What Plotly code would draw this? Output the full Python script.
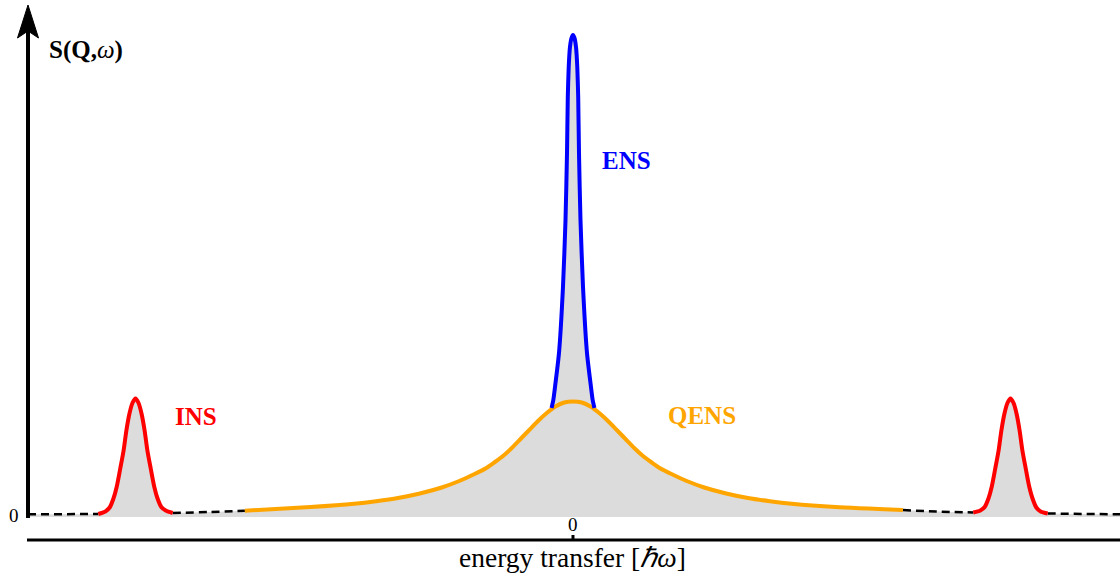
import plotly.graph_objects as go

# energy transfer in units of the inelastic peak position, intensity in arbitrary units
qens_x = [-0.75, -0.60, -0.50, -0.45, -0.40, -0.35, -0.30, -0.26, -0.225, -0.20, -0.18, -0.16, -0.14,
          -0.12, -0.10, -0.08, -0.06, -0.04, -0.02, 0.0,
          0.02, 0.04, 0.06, 0.08, 0.10, 0.12, 0.14, 0.16, 0.18, 0.20, 0.225, 0.26, 0.30,
          0.35, 0.40, 0.45, 0.50, 0.60, 0.754]
qens_y = [0.063, 0.10, 0.133, 0.158, 0.19, 0.235, 0.295, 0.36, 0.43, 0.485, 0.545, 0.61, 0.69,
          0.78, 0.87, 0.96, 1.04, 1.105, 1.145, 1.155,
          1.145, 1.105, 1.04, 0.96, 0.87, 0.78, 0.69, 0.61, 0.545, 0.485, 0.43, 0.36, 0.295,
          0.235, 0.19, 0.158, 0.133, 0.10, 0.07]

ens_x = [-0.049, -0.045, -0.0411, -0.032, -0.0229, -0.0171, -0.0137, -0.0119, -0.0098, -0.0069, -0.0034, 0.0,
         0.0034, 0.0069, 0.0098, 0.0119, 0.0137, 0.0171, 0.0229, 0.032, 0.0411, 0.045, 0.049]
ens_y = [1.09, 1.17, 1.30, 1.64, 2.30, 2.97, 3.64, 4.20, 4.50, 4.70, 4.79, 4.82,
         4.79, 4.70, 4.50, 4.20, 3.64, 2.97, 2.30, 1.64, 1.30, 1.17, 1.09]

ins_left_x = [-1.085, -1.069, -1.059, -1.050, -1.043, -1.035, -1.027, -1.021, -1.014, -1.007, -1.0,
              -0.993, -0.986, -0.979, -0.973, -0.965, -0.957, -0.950, -0.941, -0.931, -0.915]
ins_left_y = [0.03, 0.055, 0.095, 0.19, 0.30, 0.48, 0.67, 0.86, 1.03, 1.14, 1.185,
              1.14, 1.03, 0.86, 0.67, 0.48, 0.30, 0.19, 0.10, 0.065, 0.04]

ins_right_x = [0.915, 0.931, 0.941, 0.950, 0.957, 0.965, 0.973, 0.979, 0.986, 0.993, 1.0,
               1.007, 1.014, 1.021, 1.027, 1.035, 1.043, 1.050, 1.059, 1.069, 1.085]
ins_right_y = [0.045, 0.065, 0.10, 0.19, 0.30, 0.48, 0.67, 0.86, 1.03, 1.14, 1.185,
               1.14, 1.03, 0.86, 0.67, 0.48, 0.30, 0.19, 0.095, 0.055, 0.035]

# dashed background between the peaks
tail_x = [[-1.2457, -1.085], [-0.915, -0.83, -0.75], [0.754, 0.83, 0.915], [1.085, 1.2503]]
tail_y = [[0.027, 0.03], [0.04, 0.05, 0.063], [0.07, 0.055, 0.045], [0.035, 0.027]]

FONT = "Liberation Serif"

# envelope for the grey area
env_x, env_y = [], []
env_x += tail_x[0]; env_y += tail_y[0]
env_x += ins_left_x; env_y += ins_left_y
env_x += tail_x[1]; env_y += tail_y[1]
for x, y in zip(qens_x, qens_y):
    if x < ens_x[0]:
        env_x.append(x); env_y.append(y)
env_x += ens_x; env_y += ens_y
for x, y in zip(qens_x, qens_y):
    if x > ens_x[-1]:
        env_x.append(x); env_y.append(y)
env_x += tail_x[2]; env_y += tail_y[2]
env_x += ins_right_x; env_y += ins_right_y
env_x += tail_x[3]; env_y += tail_y[3]

fig = go.Figure()
fig.add_trace(go.Scatter(x=env_x, y=env_y, mode="lines", line=dict(width=0, shape="spline", smoothing=0.6),
                         fill="tozeroy", fillcolor="#dcdcdc", hoverinfo="skip"))
for tx, ty in zip(tail_x, tail_y):
    fig.add_trace(go.Scatter(x=tx, y=ty, mode="lines",
                             line=dict(color="black", width=2.5, dash="8px,5px", shape="spline")))
fig.add_trace(go.Scatter(x=qens_x, y=qens_y, mode="lines",
                         line=dict(color="#ffa500", width=4, shape="spline", smoothing=0.7)))
fig.add_trace(go.Scatter(x=ens_x, y=ens_y, mode="lines",
                         line=dict(color="#0000ff", width=4, shape="spline", smoothing=0.6)))
for xs, ys in [(ins_left_x, ins_left_y), (ins_right_x, ins_right_y)]:
    fig.add_trace(go.Scatter(x=xs, y=ys, mode="lines",
                             line=dict(color="#ff0000", width=4, shape="spline", smoothing=0.8)))

y_axis_x = -1.2457
shapes = [
    dict(type="line", x0=y_axis_x, x1=y_axis_x, y0=-0.01, y1=4.86, line=dict(color="black", width=4)),
    dict(type="path", xsizemode="pixel", ysizemode="pixel", xanchor=y_axis_x, yanchor=5.12,
         path="M0,0 L-10.5,-33 L0,-26 L10.5,-33 Z", fillcolor="black", line=dict(color="black", width=1)),
    dict(type="line", x0=-1.248, x1=1.2503, y0=-0.23, y1=-0.23, line=dict(color="black", width=3)),
    dict(type="line", x0=0, x1=0, y0=-0.18, y1=-0.23, line=dict(color="black", width=3)),
]

annotations = [
    dict(x=-1.2023, y=4.67, text="<b>S(Q,</b><i>ω</i><b>)</b>", xanchor="left", yanchor="middle",
         font=dict(family=FONT, size=25, color="black")),
    dict(x=0.0617, y=3.57, text="<b>ENS</b>", xanchor="left", yanchor="middle",
         font=dict(family=FONT, size=25, color="#0000ff")),
    dict(x=-0.914, y=1.01, text="<b>INS</b>", xanchor="left", yanchor="middle",
         font=dict(family=FONT, size=25, color="#ff0000")),
    dict(x=0.2126, y=1.02, text="<b>QENS</b>", xanchor="left", yanchor="middle",
         font=dict(family=FONT, size=25, color="#ffa500")),
    dict(x=-1.2777, y=0.015, text="0", xanchor="center", yanchor="middle",
         font=dict(family=FONT, size=19, color="black")),
    dict(x=0, y=-0.07, text="0", xanchor="center", yanchor="middle",
         font=dict(family=FONT, size=19, color="black")),
    dict(x=0, y=-0.405, text="energy transfer [<i>ℏω</i>]", xanchor="center", yanchor="middle",
         font=dict(family=FONT, size=27.5, color="black")),
]
for a in annotations:
    a.update(xref="x", yref="y", showarrow=False)

fig.update_layout(
    width=1120, height=574,
    margin=dict(l=0, r=0, t=0, b=0),
    paper_bgcolor="white", plot_bgcolor="white",
    showlegend=False,
    xaxis=dict(range=[-1.3097, 1.2503], visible=False, fixedrange=True),
    yaxis=dict(range=[-0.57, 5.17], visible=False, fixedrange=True),
    shapes=shapes, annotations=annotations,
)

# the page has a default body margin; drop it so the figure fills the window
fig.write_html("out.html", config={"displayModeBar": False},
               post_script="document.body.style.margin='0';document.body.style.overflow='hidden';")
